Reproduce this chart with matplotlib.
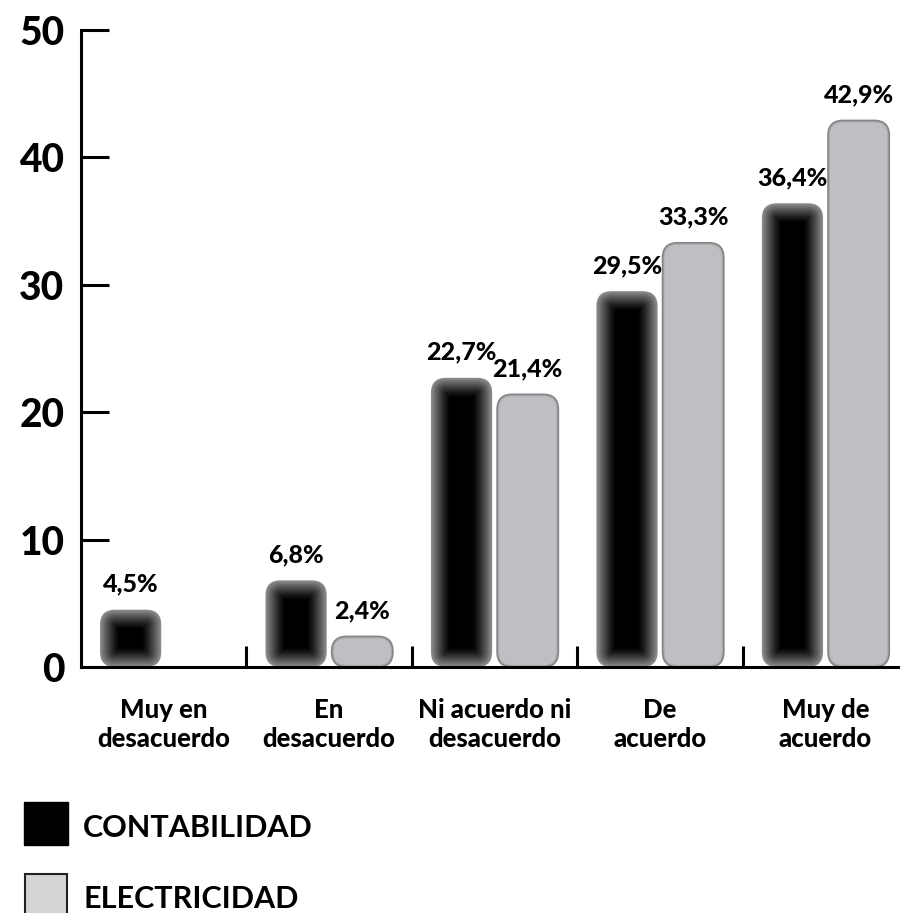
# Bar chart: CONTABILIDAD vs ELECTRICIDAD
import matplotlib
matplotlib.use('Agg')
import matplotlib.pyplot as plt
from matplotlib.patches import FancyBboxPatch, Rectangle
import numpy as np

plt.rcParams['font.family'] = ['Lato', 'DejaVu Sans']

# Data
categories = ['Muy en\ndesacuerdo', 'En\ndesacuerdo', 'Ni acuerdo ni\ndesacuerdo',
              'De\nacuerdo', 'Muy de\nacuerdo']
contabilidad = [4.5, 6.8, 22.7, 29.5, 36.4]
electricidad = [0.0, 2.4, 21.4, 33.3, 42.9]
series_names = ['CONTABILIDAD', 'ELECTRICIDAD']

W, H = 900, 913
fig = plt.figure(figsize=(W / 100, H / 100), dpi=100)
left, bottom = 81 / W, 246 / H
width, height = 1 - left, (913 - 30) / H - bottom
ax = fig.add_axes([left, bottom, width, height])

xmin, xmax = -0.5, 4.45
ymax = 50
ax.set_xlim(xmin, xmax)
ax.set_ylim(0, ymax)

# pixels per data unit, used for rounded corners and glow insets
sx = W * width / (xmax - xmin)
sy = H * height / ymax

bar_w = 0.37
offset = 0.2
radius_px = 15


def rounded_bar(xc, h, inset, color, edge='none', lw=0, z=2):
    x0 = xc - bar_w / 2 + inset / sx
    y0 = inset / sy
    ww = bar_w - 2 * inset / sx
    hh = h - 2 * inset / sy
    if ww <= 0 or hh <= 0:
        return
    r = max(radius_px - inset, 1.5) / sx
    p = FancyBboxPatch((x0, y0), ww, hh,
                       boxstyle=f"round,pad=0,rounding_size={r}",
                       mutation_aspect=sx / sy, facecolor=color,
                       edgecolor=edge, linewidth=lw, zorder=z, clip_on=False)
    ax.add_patch(p)


x = np.arange(len(categories))
lab_kw = dict(ha='center', va='bottom', fontsize=18, fontweight='black')

# black bars with soft grey glow at the edges
glow = 19
for xi, v in zip(x - offset, contabilidad):
    rounded_bar(xi, v, 0, '#8c8c8c', z=2)
    for d in range(1, glow + 1):
        g = 0.55 * (1 - d / glow) ** 1.25
        rounded_bar(xi, v, d, (g, g, g), z=2 + d * 0.01)
    ax.text(xi, v + 1.1, f"{v:.1f}%".replace('.', ','), **lab_kw)

# light grey bars
for xi, v in zip(x + offset, electricidad):
    if v <= 0:
        continue
    rounded_bar(xi, v, 0, '#a9abae', edge='#858585', lw=1.2)
    rounded_bar(xi, v, 2, '#bdbfc2', z=2.1)
    ax.text(xi, v + 1.1, f"{v:.1f}%".replace('.', ','), **lab_kw)

# axes styling
for s in ['top', 'right']:
    ax.spines[s].set_visible(False)
for s in ['left', 'bottom']:
    ax.spines[s].set_linewidth(2.2)
    ax.spines[s].set_zorder(5)

ax.set_yticks(range(0, 51, 10))
ax.tick_params(axis='y', direction='in', length=20, width=2.2, pad=12,
               labelsize=28)
for lab in ax.get_yticklabels():
    lab.set_fontweight('black')

ax.set_xticks(x)
ax.set_xticklabels(categories, fontsize=18.5, fontweight='black', linespacing=1.25)
ax.tick_params(axis='x', which='major', length=0, pad=22)
ax.set_xticks(x[:-1] + 0.5, minor=True)
ax.tick_params(axis='x', which='minor', direction='in', length=15, width=2.2)

# legend drawn by hand below the chart
fig.patches.append(Rectangle((24 / W, (H - 845) / H), 44 / W, 43 / H,
                             facecolor='black', edgecolor='black',
                             transform=fig.transFigure))
fig.patches.append(Rectangle((25 / W, (H - 917) / H), 42 / W, 43 / H,
                             facecolor='#d3d4d6', edgecolor='#222222', linewidth=1.5,
                             transform=fig.transFigure))
fig.text(83 / W, (H - 828) / H, series_names[0], fontsize=22, fontweight='bold',
         va='center', ha='left')
fig.text(83 / W, (H - 899) / H, series_names[1], fontsize=22, fontweight='bold',
         va='center', ha='left')

plt.savefig('out.png', dpi=100)
